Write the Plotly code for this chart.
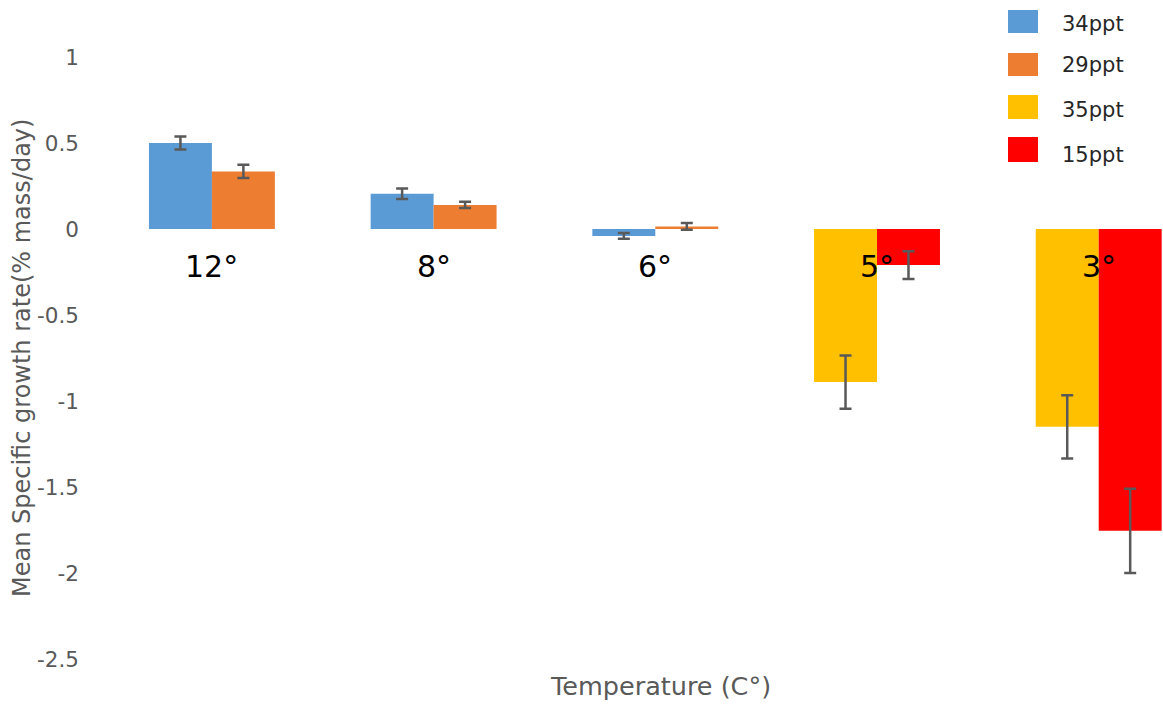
import plotly.graph_objects as go

# Temperature groups (x categories)
temperatures = ["12°", "8°", "6°", "5°", "3°"]

# Salinity series: names, categories and values
series_names = ["34ppt", "29ppt", "35ppt", "15ppt"]
series_colors = ["#5B9BD5", "#ED7D31", "#FFC000", "#FF0000"]

temps_high = ["12°", "8°", "6°"]
temps_low = ["5°", "3°"]

growth_34ppt = [0.50, 0.205, -0.04]
err_34ppt = [0.038, 0.030, 0.017]

growth_29ppt = [0.335, 0.14, 0.015]
err_29ppt = [0.038, 0.018, 0.020]

growth_35ppt = [-0.89, -1.15]
err_35ppt = [0.155, 0.184]

growth_15ppt = [-0.21, -1.755]
err_15ppt = [0.08, 0.245]

y_ticks = [1, 0.5, 0, -0.5, -1, -1.5, -2, -2.5]

W, H = 1163, 704
M_L, M_R, M_T, M_B = 80, 0, 57, 45
PW, PH = W - M_L - M_R, H - M_T - M_B

FONT = "DejaVu Sans"
GREY = "#595959"


def px_x(px):
    return (px - M_L) / PW


def px_y(py):
    return (H - M_B - py) / PH


def err(vals):
    return dict(type="data", array=vals, visible=True, color=GREY,
                thickness=2.5, width=6)


fig = go.Figure()
traces = [
    (temps_high, growth_34ppt, err_34ppt, "a"),
    (temps_high, growth_29ppt, err_29ppt, "b"),
    (temps_low, growth_35ppt, err_35ppt, "a"),
    (temps_low, growth_15ppt, err_15ppt, "b"),
]
for (xs, ys, es, grp), name, color in zip(traces, series_names, series_colors):
    fig.add_trace(go.Bar(
        x=xs, y=ys, name=name, offsetgroup=grp,
        marker=dict(color=color, line=dict(width=0)),
        error_y=err(es), showlegend=False,
    ))

annotations = []
# Temperature labels just under the zero line
for t in temperatures:
    annotations.append(dict(
        x=t, y=-0.219, xref="x", yref="y", text=t, showarrow=False,
        font=dict(family=FONT, size=30, color="#000000"),
        xanchor="center", yanchor="middle",
    ))

# Axis titles
annotations.append(dict(
    x=0, y=0.5, xref="paper", yref="paper", xshift=-58,
    text="Mean Specific growth rate(% mass/day)", textangle=-90,
    showarrow=False, xanchor="center", yanchor="middle",
    font=dict(family=FONT, size=24, color=GREY),
))
annotations.append(dict(
    x="6°", y=px_y(686), xref="x", yref="paper", xshift=5,
    text="Temperature (C°)", showarrow=False,
    xanchor="center", yanchor="middle",
    font=dict(family=FONT, size=25.5, color=GREY),
))

# Legend: swatches with labels at the top right
shapes = []
legend_rows = [(10, 33), (53, 76), (95, 119), (137, 162)]
legend_text_y = [24, 65, 110, 155]
for (top, bottom), ty, name, color in zip(legend_rows, legend_text_y,
                                          series_names, series_colors):
    shapes.append(dict(
        type="rect", xref="paper", yref="paper",
        x0=px_x(1008), x1=px_x(1038), y0=px_y(bottom), y1=px_y(top),
        fillcolor=color, line=dict(width=0), layer="above",
    ))
    annotations.append(dict(
        x=px_x(1060), y=px_y(ty), xref="paper", yref="paper",
        text=name, showarrow=False, xanchor="left", yanchor="middle",
        font=dict(family=FONT, size=21, color="#262626"),
    ))

fig.update_layout(
    width=W, height=H,
    margin=dict(l=M_L, r=M_R, t=M_T, b=M_B, autoexpand=False),
    paper_bgcolor="white", plot_bgcolor="white",
    barmode="group", bargap=0.432, bargroupgap=0,
    showlegend=False,
    annotations=annotations, shapes=shapes,
    xaxis=dict(
        type="category", categoryorder="array", categoryarray=temperatures,
        range=[-0.595, 4.29], showticklabels=False, showgrid=False,
        zeroline=False, showline=False, ticks="",
    ),
    yaxis=dict(
        range=[-2.5, 1], tickvals=y_ticks, ticktext=[f"{v:g}" for v in y_ticks],
        showgrid=False, zeroline=False, showline=False, ticks="",
        tickfont=dict(family=FONT, size=21.5, color=GREY),
    ),
)

fig.write_html("out.html")
